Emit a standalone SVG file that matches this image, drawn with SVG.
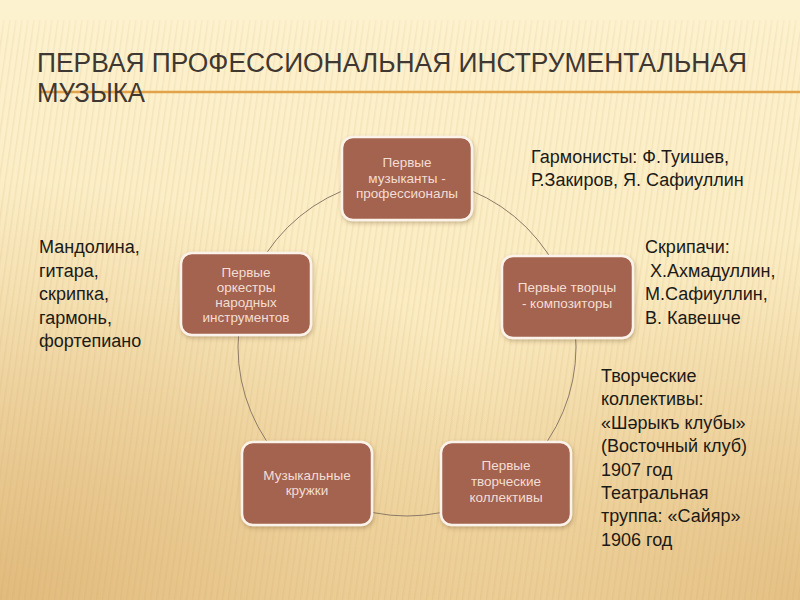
<svg xmlns="http://www.w3.org/2000/svg" width="800" height="600" viewBox="0 0 800 600">
<defs>
<linearGradient id="bgv" x1="0" y1="0" x2="0" y2="1">
<stop offset="0" stop-color="#fdf2cf"/>
<stop offset="0.5" stop-color="#fbecc2"/>
<stop offset="1" stop-color="#f2d9a4"/>
</linearGradient>
<radialGradient id="bl" cx="0" cy="1" r="0.7">
<stop offset="0" stop-color="#dcb070" stop-opacity="0.75"/>
<stop offset="1" stop-color="#dcb070" stop-opacity="0"/>
</radialGradient>
<radialGradient id="br" cx="1" cy="1" r="0.6">
<stop offset="0" stop-color="#dcb070" stop-opacity="0.6"/>
<stop offset="1" stop-color="#dcb070" stop-opacity="0"/>
</radialGradient>
<pattern id="stripes" width="6" height="600" patternUnits="userSpaceOnUse" patternTransform="skewX(-8)">
<rect x="0" y="0" width="1.5" height="600" fill="#c9a160" opacity="0.14"/>
</pattern>
<linearGradient id="stripeMask" x1="0" y1="0" x2="0" y2="1">
<stop offset="0" stop-color="#fff" stop-opacity="0"/>
<stop offset="0.06" stop-color="#fff" stop-opacity="1"/>
<stop offset="1" stop-color="#fff" stop-opacity="1"/>
</linearGradient>
<mask id="m"><rect width="800" height="600" fill="url(#stripeMask)"/></mask>
<filter id="sh" x="-10%" y="-10%" width="130%" height="130%">
<feDropShadow dx="1" dy="2" stdDeviation="2" flood-color="#6a4a2a" flood-opacity="0.35"/>
</filter>
</defs>
<style>
.node rect{fill:#a3634f;stroke:#fbf3ea;stroke-width:2.5;filter:url(#sh)}
.node text{font-family:"Liberation Sans",Arial,sans-serif;font-size:13.5px;fill:#f3ddd3;text-anchor:middle}
.side{font-family:"Liberation Sans",Arial,sans-serif;font-size:18px;fill:#1c1a16}
.title{font-family:"Liberation Sans",Arial,sans-serif;font-size:27px;fill:#3f3731}
</style>
<rect width="800" height="600" fill="url(#bgv)"/>
<rect width="800" height="600" fill="url(#bl)"/>
<rect width="800" height="600" fill="url(#br)"/>
<rect x="0" y="20" width="800" height="580" fill="url(#stripes)" mask="url(#m)"/>

<g id="title">
<line x1="40" y1="92" x2="800" y2="92" stroke="#e2a24a" stroke-width="2.5"/>
<text class="title" x="37" y="72" textLength="710" lengthAdjust="spacingAndGlyphs">ПЕРВАЯ ПРОФЕССИОНАЛЬНАЯ ИНСТРУМЕНТАЛЬНАЯ</text>
<text class="title" x="37" y="102" textLength="108" lengthAdjust="spacingAndGlyphs">МУЗЫКА</text>
</g>

<g id="connectors">
<circle cx="407" cy="347" r="169" fill="none" stroke="#8c7b68" stroke-width="1"/>
</g>

<g id="node-top" class="node">
<rect x="342" y="137" width="130" height="83" rx="11"/>
<text x="407" y="167">Первые</text>
<text x="407" y="183">музыканты -</text>
<text x="407" y="198">профессионалы</text>
</g>
<g id="node-right" class="node">
<rect x="502" y="256" width="131" height="82" rx="11"/>
<text x="567" y="292">Первые творцы</text>
<text x="567" y="308">- композиторы</text>
</g>
<g id="node-left" class="node">
<rect x="181" y="253" width="130" height="82" rx="11"/>
<text x="246" y="277">Первые</text>
<text x="246" y="292">оркестры</text>
<text x="246" y="307">народных</text>
<text x="246" y="322">инструментов</text>
</g>
<g id="node-bottom-left" class="node">
<rect x="242" y="442" width="130" height="83" rx="11"/>
<text x="307" y="480">Музыкальные</text>
<text x="307" y="495">кружки</text>
</g>
<g id="node-bottom-right" class="node">
<rect x="441" y="442" width="130" height="83" rx="11"/>
<text x="506" y="470">Первые</text>
<text x="506" y="486">творческие</text>
<text x="506" y="502">коллективы</text>
</g>

<g id="text-garmonisty" class="side">
<text x="531" y="163">Гармонисты: Ф.Туишев,</text>
<text x="531" y="186">Р.Закиров, Я. Сафиуллин</text>
</g>
<g id="text-instruments" class="side">
<text x="39" y="253">Мандолина,</text>
<text x="39" y="277">гитара,</text>
<text x="39" y="300">скрипка,</text>
<text x="39" y="324">гармонь,</text>
<text x="39" y="347">фортепиано</text>
</g>
<g id="text-skripachi" class="side">
<text x="645" y="253">Скрипачи:</text>
<text x="645" y="277" xml:space="preserve"> Х.Ахмадуллин,</text>
<text x="645" y="300">М.Сафиуллин,</text>
<text x="645" y="324">В. Кавешче</text>
</g>
<g id="text-kollektivy" class="side">
<text x="601" y="382">Творческие</text>
<text x="601" y="405">коллективы:</text>
<text x="601" y="429">«Шәрыкъ клубы»</text>
<text x="601" y="452">(Восточный клуб)</text>
<text x="601" y="476">1907 год</text>
<text x="601" y="499">Театральная</text>
<text x="601" y="522">труппа: «Сайяр»</text>
<text x="601" y="546">1906 год</text>
</g>
</svg>
